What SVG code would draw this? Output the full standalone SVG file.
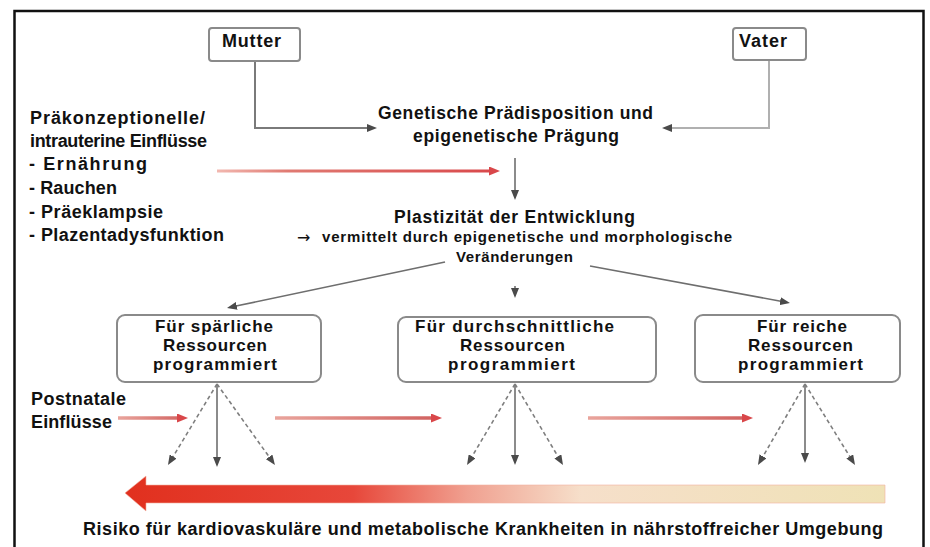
<svg xmlns="http://www.w3.org/2000/svg" width="930" height="547" viewBox="0 0 930 547">
<defs>
<style>
.t{font-family:"Liberation Sans",Arial,sans-serif;font-weight:bold;fill:#111}
.s18{font-size:18px}
.s17{font-size:17.5px}
.sb{font-size:17px}
.s14{font-size:15px}
.box{fill:#fff;stroke:#8a8a8a;stroke-width:2}
.cg{fill:none;stroke:#7a7a7a;stroke-width:2}
.cl{fill:none;stroke:#b0b0b0;stroke-width:2}
.cd{fill:none;stroke:#7e7e7e;stroke-width:1.6;stroke-dasharray:4 3}
.cs{fill:none;stroke:#6e6e6e;stroke-width:1.6}
</style>
<marker id="ag" markerUnits="userSpaceOnUse" markerWidth="10" markerHeight="8" refX="2" refY="4" orient="auto"><path d="M0,0 L10,4 L0,8 Z" fill="#4a4a4a"/></marker>
<marker id="ar" markerUnits="userSpaceOnUse" markerWidth="11" markerHeight="9" refX="2" refY="4.5" orient="auto"><path d="M0,0 L11,4.5 L0,9 Z" fill="#d9474a"/></marker>
<linearGradient id="gTop" gradientUnits="userSpaceOnUse" x1="217" y1="0" x2="500" y2="0"><stop offset="0" stop-color="#f2b8b0"/><stop offset="0.25" stop-color="#e07a72"/><stop offset="1" stop-color="#d9474a"/></linearGradient>
<linearGradient id="gP1" gradientUnits="userSpaceOnUse" x1="118" y1="0" x2="188" y2="0"><stop offset="0" stop-color="#e9a49c"/><stop offset="1" stop-color="#d0605e"/></linearGradient>
<linearGradient id="gP2" gradientUnits="userSpaceOnUse" x1="275" y1="0" x2="442" y2="0"><stop offset="0" stop-color="#e9a49c"/><stop offset="1" stop-color="#d0605e"/></linearGradient>
<linearGradient id="gP3" gradientUnits="userSpaceOnUse" x1="588" y1="0" x2="753" y2="0"><stop offset="0" stop-color="#e9a49c"/><stop offset="1" stop-color="#d0605e"/></linearGradient>
<linearGradient id="gBig" gradientUnits="userSpaceOnUse" x1="125" y1="0" x2="885" y2="0"><stop offset="0" stop-color="#e1301e"/><stop offset="0.3" stop-color="#e7473a"/><stop offset="0.45" stop-color="#f0a090"/><stop offset="0.6" stop-color="#f6dfca"/><stop offset="1" stop-color="#efe2b6"/></linearGradient>
</defs>
<rect x="0" y="0" width="930" height="547" fill="#fff"/>
<rect x="14.5" y="11" width="909" height="560" fill="none" stroke="#111" stroke-width="2.5"/>

<g id="connectors">
<path class="cg" d="M255,61 V128 H369" marker-end="url(#ag)"/>
<path class="cl" d="M769,60 V128 H670" marker-end="url(#ag)"/>
<path fill="none" stroke="url(#gTop)" stroke-width="3" d="M217,171 H491" marker-end="url(#ar)"/>
<path class="cs" d="M515,158 V192" marker-end="url(#ag)"/>
<path class="cs" d="M445,262 L234.8,306.3" marker-end="url(#ag)"/>
<path class="cs" d="M590,266 L782.1,301.5" marker-end="url(#ag)"/>
<path class="cs" d="M515,286 V290" marker-end="url(#ag)"/>
<path class="cs" d="M217,384 V459" marker-end="url(#ag)"/>
<path class="cd" d="M217,384 L172.1,458.2" marker-end="url(#ag)"/>
<path class="cd" d="M217,384 L270.3,458.5" marker-end="url(#ag)"/>
<path class="cs" d="M515,384 V457" marker-end="url(#ag)"/>
<path class="cd" d="M515,384 L471.1,458.1" marker-end="url(#ag)"/>
<path class="cd" d="M515,384 L558.9,458.1" marker-end="url(#ag)"/>
<path class="cs" d="M805,384 V455" marker-end="url(#ag)"/>
<path class="cd" d="M805,384 L762,458.1" marker-end="url(#ag)"/>
<path class="cd" d="M805,384 L850.8,458.2" marker-end="url(#ag)"/>
<path fill="none" stroke="url(#gP1)" stroke-width="3.5" d="M118,418 H179" marker-end="url(#ar)"/>
<path fill="none" stroke="url(#gP2)" stroke-width="3.5" d="M275,418 H433" marker-end="url(#ar)"/>
<path fill="none" stroke="url(#gP3)" stroke-width="3.5" d="M588,418 H744" marker-end="url(#ar)"/>
</g>

<g id="mutter">
<rect class="box" x="209" y="28" width="91" height="33" rx="3"/>
<text class="t s18" x="222" y="47" textLength="59" lengthAdjust="spacing">Mutter</text>
</g>
<g id="vater">
<rect class="box" x="733" y="28" width="73" height="32" rx="3"/>
<text class="t s18" x="739" y="47" textLength="48" lengthAdjust="spacing">Vater</text>
</g>
<g id="praekonzeptionell">
<text class="t s18" x="30" y="124" textLength="175" lengthAdjust="spacing">Präkonzeptionelle/</text>
<text class="t s18" x="30" y="147" textLength="177" lengthAdjust="spacing">intrauterine Einflüsse</text>
<text class="t s18" x="29" y="170" textLength="118" lengthAdjust="spacing">- Ernährung</text>
<text class="t s18" x="29" y="194" textLength="88" lengthAdjust="spacing">- Rauchen</text>
<text class="t s18" x="29" y="218" textLength="134" lengthAdjust="spacing">- Präeklampsie</text>
<text class="t s18" x="29" y="241" textLength="195" lengthAdjust="spacing">- Plazentadysfunktion</text>
</g>
<g id="genetisch">
<text class="t s17" x="378" y="119" textLength="275" lengthAdjust="spacing">Genetische Prädisposition und</text>
<text class="t s17" x="413" y="142" textLength="206" lengthAdjust="spacing">epigenetische Prägung</text>
</g>
<g id="plastizitaet">
<text class="t s17" x="394" y="223" textLength="241" lengthAdjust="spacing">Plastizität der Entwicklung</text>
<text x="297" y="243" style="font-family:'DejaVu Sans',sans-serif;font-size:16px;fill:#111">→</text>
<text class="t s14" x="322" y="242" textLength="410" lengthAdjust="spacing">vermittelt durch epigenetische und morphologische</text>
<text class="t s14" x="456" y="262" textLength="117" lengthAdjust="spacing">Veränderungen</text>
</g>
<g id="box-spaerlich">
<rect class="box" x="117" y="315" width="204" height="67" rx="8"/>
<text class="t sb" x="155" y="332" textLength="118" lengthAdjust="spacing">Für spärliche</text>
<text class="t sb" x="163" y="351" textLength="104" lengthAdjust="spacing">Ressourcen</text>
<text class="t sb" x="153" y="370" textLength="124" lengthAdjust="spacing">programmiert</text>
</g>
<g id="box-durchschnittlich">
<rect class="box" x="398" y="317" width="258" height="65" rx="8"/>
<text class="t sb" x="415" y="332" textLength="199" lengthAdjust="spacing">Für durchschnittliche</text>
<text class="t sb" x="460" y="351" textLength="105" lengthAdjust="spacing">Ressourcen</text>
<text class="t sb" x="448" y="370" textLength="127" lengthAdjust="spacing">programmiert</text>
</g>
<g id="box-reich">
<rect class="box" x="695" y="315" width="205" height="67" rx="8"/>
<text class="t sb" x="757" y="332" textLength="90" lengthAdjust="spacing">Für reiche</text>
<text class="t sb" x="748" y="351" textLength="105" lengthAdjust="spacing">Ressourcen</text>
<text class="t sb" x="738" y="370" textLength="125" lengthAdjust="spacing">programmiert</text>
</g>
<g id="postnatal">
<text class="t s18" x="31" y="405" textLength="95" lengthAdjust="spacing">Postnatale</text>
<text class="t s18" x="31" y="428" textLength="81" lengthAdjust="spacing">Einflüsse</text>
</g>
<g id="risiko">
<path d="M125,493 L146,476 L146,485 L885,485 L885,503 L146,503 L146,511 Z" fill="url(#gBig)" stroke="#f2b0a2" stroke-width="1" stroke-opacity="0.6"/>
<text class="t s18" x="83" y="535" textLength="800" lengthAdjust="spacing">Risiko für kardiovaskuläre und metabolische Krankheiten in nährstoffreicher Umgebung</text>
</g>
</svg>
